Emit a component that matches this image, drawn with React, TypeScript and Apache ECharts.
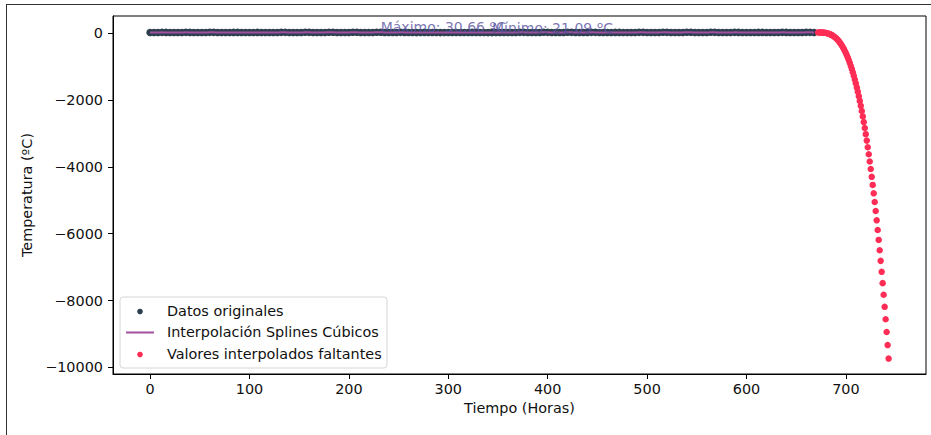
import React, { useEffect, useRef } from "react";
import * as echarts from "echarts";

// ---- Data ----
const ORIGINAL_START_HOUR = 0;
const ORIGINAL_STEP_HOURS = 4;
const originalTemps = [
  22.5, 21.9, 24.3, 27.8, 27.1, 23.9,
  22.8, 22.1, 24.9, 28.4, 27.6, 24.2,
  23.1, 22.4, 25.2, 28.9, 28.0, 24.6,
  22.7, 21.8, 24.1, 27.5, 26.9, 23.7,
  22.2, 21.5, 23.8, 27.0, 26.4, 23.3,
  22.9, 22.3, 25.0, 28.6, 27.8, 24.4,
  23.4, 22.7, 25.8, 29.3, 28.5, 25.0,
  23.8, 23.0, 26.1, 29.9, 29.0, 25.3,
  23.9, 23.1, 26.3, 30.2, 29.3, 25.5,
  24.0, 23.2, 26.5, 29.8, 30.66, 25.6,
  22.6, 21.9, 24.4, 27.9, 27.2, 23.8,
  21.9, 21.3, 23.5, 26.6, 26.0, 23.0,
  21.6, 21.4, 23.1, 26.2, 25.7, 22.7,
  22.1, 21.6, 23.9, 27.2, 26.6, 23.4,
  21.7, 21.3, 21.09, 23.4, 25.9, 23.0,
  23.2, 22.5, 25.3, 28.8, 28.1, 24.7,
  23.6, 22.9, 25.9, 29.5, 28.7, 25.1,
  23.3, 22.6, 25.4, 29.0, 28.2, 24.8,
  22.8, 22.2, 24.8, 28.3, 27.7, 24.3,
  22.4, 21.7, 24.2, 27.6, 27.0, 23.6,
  22.9, 22.2, 25.1, 28.7, 27.9, 24.5,
  23.5, 22.8, 25.7, 29.4, 28.6, 25.0,
  23.9, 23.1, 26.2, 30.1, 29.2, 25.4,
  23.4, 22.7, 25.5, 29.2, 28.4, 24.9,
  22.8, 22.1, 24.6, 28.0, 27.4, 24.0,
  22.3, 21.6, 24.0, 27.3, 26.8, 23.5,
  22.6, 21.9, 24.5, 27.9, 27.3, 23.9,
  23.0, 22.3, 25.0, 28.5, 27.8, 24.4,
];

const MISSING_START_HOUR = 672;
const missingTemps = [
  25.0, 25.0, 24.7, 24.0, 22.7, 20.7, 17.9, 14.0, 8.9, 2.5,
  -5.5, -15.2, -26.7, -40.2, -55.8, -73.8, -94.3, -117.3, -143.3, -172.1,
  -204.1, -239.4, -278.1, -320.5, -366.6, -416.6, -470.7, -529.1, -591.8, -659.2,
  -731.3, -808.2, -890.2, -977.4, -1070.0, -1168.2, -1272.0, -1381.6, -1497.3, -1619.2,
  -1747.3, -1882.0, -2023.4, -2171.5, -2326.6, -2488.9, -2658.5, -2835.5, -3020.1, -3212.5,
  -3412.9, -3621.3, -3838.0, -4063.1, -4296.8, -4539.3, -4790.6, -5051.0, -5320.6, -5599.6,
  -5888.2, -6186.4, -6494.6, -6812.7, -7141.0, -7479.7, -7828.9, -8188.7, -8559.4, -8941.0,
  -9333.8, -9737.9,
];

const xTicks = [0, 100, 200, 300, 400, 500, 600, 700];
const yTicks = [0, -2000, -4000, -6000, -8000, -10000];

const legendLabels = [
  "Datos originales",
  "Interpolación Splines Cúbicos",
  "Valores interpolados faltantes",
];

// ---- Styles ----
const NAVY = "#2c3e50";
const PURPLE = "#a0509e";
const RED = "#ff2d55";
const NOTE = "#5a52a0";
const FONT = "DejaVu Sans";
const FS = 14.4;

export default function App() {
  const ref = useRef<HTMLDivElement>(null);

  useEffect(() => {
    document.body.style.margin = "0";
    if (!ref.current) return;
    const chart = echarts.init(ref.current, undefined, { renderer: "svg" });

    const originalPts = originalTemps.map((v, i) => [
      ORIGINAL_START_HOUR + i * ORIGINAL_STEP_HOURS,
      v,
    ]);
    const missingPts = missingTemps.map((v, i) => [MISSING_START_HOUR + i, v]);

    let maxIdx = 0;
    let minIdx = 0;
    originalTemps.forEach((v, i) => {
      if (v > originalTemps[maxIdx]) maxIdx = i;
      if (v < originalTemps[minIdx]) minIdx = i;
    });
    const maxVal = originalTemps[maxIdx];
    const minVal = originalTemps[minIdx];

    const noteLabel = (text: string) => ({
      show: true,
      formatter: text,
      position: [0, 2] as any,
      align: "left",
      verticalAlign: "bottom",
      color: NOTE,
      fontFamily: FONT,
      fontSize: 14,
    });

    const option: any = {
      animation: false,
      backgroundColor: "#fff",
      grid: {
        left: 113,
        top: 16,
        width: 813,
        height: 358,
        show: true,
        borderColor: "#000",
        borderWidth: 1,
        backgroundColor: "transparent",
      },
      xAxis: {
        type: "value",
        min: -37.3,
        max: 780.6,
        name: "Tiempo (Horas)",
        nameLocation: "middle",
        nameGap: 27,
        nameTextStyle: { color: "#111", fontFamily: FONT, fontSize: FS },
        axisLine: { show: true, onZero: false, lineStyle: { color: "#000", width: 1 } },
        axisTick: {
          show: true,
          inside: false,
          length: 5,
          lineStyle: { color: "#000", width: 1 },
          customValues: xTicks,
        },
        axisLabel: {
          show: true,
          margin: 8,
          color: "#111",
          fontFamily: FONT,
          fontSize: FS,
          customValues: xTicks,
        },
        splitLine: { show: false },
      },
      yAxis: {
        type: "value",
        min: -10200,
        max: 518,
        name: "Temperatura (ºC)",
        nameLocation: "middle",
        nameRotate: 90,
        nameGap: 75,
        nameTextStyle: { color: "#111", fontFamily: FONT, fontSize: FS },
        axisLine: { show: true, onZero: false, lineStyle: { color: "#000", width: 1 } },
        axisTick: {
          show: true,
          inside: false,
          length: 5,
          lineStyle: { color: "#000", width: 1 },
          customValues: yTicks,
        },
        axisLabel: {
          show: true,
          margin: 10,
          color: "#111",
          fontFamily: FONT,
          fontSize: FS,
          customValues: yTicks,
          formatter: (v: number) =>
            v < 0 ? "\u2212" + Math.abs(v) : String(v),
        },
        splitLine: { show: false },
      },
      series: [
        {
          name: legendLabels[0],
          type: "scatter",
          data: originalPts,
          symbol: "circle",
          symbolSize: 7.5,
          itemStyle: { color: NAVY, opacity: 1 },
          z: 2,
        },
        {
          name: legendLabels[1],
          type: "line",
          data: originalPts,
          smooth: true,
          showSymbol: false,
          symbol: "none",
          lineStyle: { color: PURPLE, width: 2 },
          z: 3,
        },
        {
          name: legendLabels[2],
          type: "scatter",
          data: missingPts,
          symbol: "circle",
          symbolSize: 6.5,
          itemStyle: { color: RED, opacity: 1 },
          z: 4,
        },
        {
          name: "notes",
          type: "scatter",
          symbolSize: 0,
          z: 5,
          silent: true,
          data: [
            {
              value: [ORIGINAL_START_HOUR + maxIdx * ORIGINAL_STEP_HOURS, maxVal],
              label: noteLabel(`Máximo: ${maxVal.toFixed(2)} ºC`),
            },
            {
              value: [ORIGINAL_START_HOUR + minIdx * ORIGINAL_STEP_HOURS, minVal],
              label: noteLabel(`Mínimo: ${minVal.toFixed(2)} ºC`),
            },
          ],
        },
      ],
      graphic: [
        // outer frame of the capture
        {
          type: "line",
          shape: { x1: 6, y1: 4.5, x2: 931, y2: 4.5 },
          style: { stroke: "#333", lineWidth: 1 },
          silent: true,
        },
        {
          type: "line",
          shape: { x1: 6.5, y1: 4, x2: 6.5, y2: 435 },
          style: { stroke: "#333", lineWidth: 1 },
          silent: true,
        },
        // legend
        {
          type: "group",
          z: 100,
          children: [
            {
              type: "rect",
              shape: { x: 120, y: 297, width: 267, height: 71, r: 3 },
              style: { fill: "rgba(255,255,255,0.8)", stroke: "#d6d6d6", lineWidth: 1 },
            },
            {
              type: "circle",
              shape: { cx: 140, cy: 311.5, r: 2.8 },
              style: { fill: NAVY },
            },
            {
              type: "text",
              x: 167,
              y: 311,
              style: {
                text: legendLabels[0],
                fill: "#111",
                font: `${FS}px "${FONT}"`,
                verticalAlign: "middle",
              },
            },
            {
              type: "line",
              shape: { x1: 126, y1: 332.5, x2: 154, y2: 332.5 },
              style: { stroke: PURPLE, lineWidth: 2 },
            },
            {
              type: "text",
              x: 167,
              y: 332,
              style: {
                text: legendLabels[1],
                fill: "#111",
                font: `${FS}px "${FONT}"`,
                verticalAlign: "middle",
              },
            },
            {
              type: "circle",
              shape: { cx: 140, cy: 354.5, r: 2.8 },
              style: { fill: RED },
            },
            {
              type: "text",
              x: 167,
              y: 354,
              style: {
                text: legendLabels[2],
                fill: "#111",
                font: `${FS}px "${FONT}"`,
                verticalAlign: "middle",
              },
            },
          ],
        },
      ],
    };

    chart.setOption(option);
    return () => chart.dispose();
  }, []);

  return <div ref={ref} style={{ width: 931, height: 435 }} />;
}
